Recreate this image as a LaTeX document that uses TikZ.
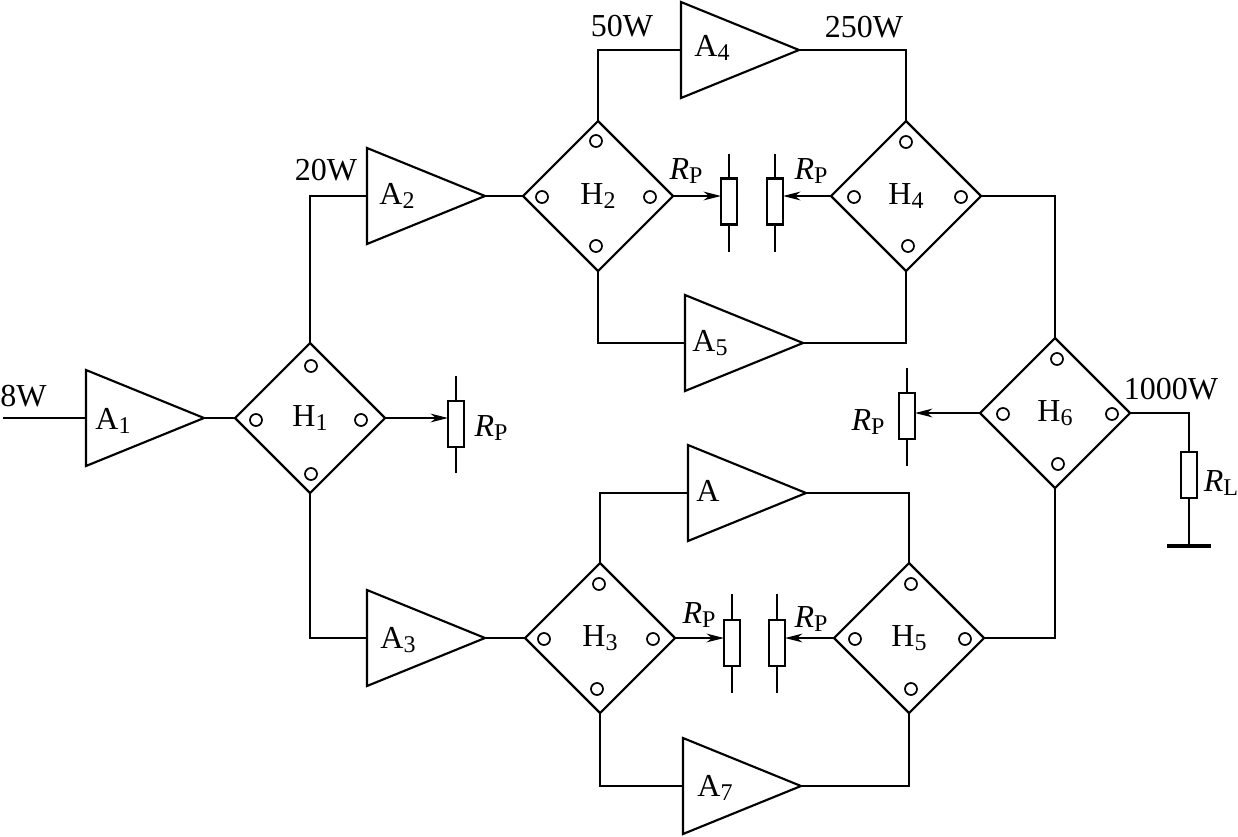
\documentclass[tikz,border=0pt]{standalone}
\usepackage{fontspec}
\setmainfont{Liberation Serif}
\usetikzlibrary{shapes.geometric,arrows.meta}
% Subscript set lower and smaller than the base text
\newcommand{\lowsub}[1]{\raisebox{-0.14em}{\fontsize{18}{20}\selectfont #1}}
\newcommand{\rpname}{\textit{R}\lowsub{P}}
\tikzset{
  wire/.style={line width=1.6pt,line join=miter},
  amp/.style={draw,line width=1.6pt,isosceles triangle,isosceles triangle stretches,
    minimum width=72pt,minimum height=88.5pt,inner sep=0pt,outer sep=0pt,anchor=lower side},
  hybrid/.style={draw,line width=1.6pt,diamond,aspect=1,minimum width=112.5pt,minimum height=112.5pt,
    inner sep=0pt,outer sep=0pt,font=\fontsize{24}{28}\selectfont},
  port/.style={draw,line width=1.3pt,circle,minimum size=9pt,inner sep=0pt,outer sep=0pt},
  resistor/.style={draw,line width=1.6pt,rectangle,minimum width=12pt,minimum height=34.5pt,
    inner sep=0pt,outer sep=0pt},
  tag/.style={inner sep=0pt,outer sep=0pt,font=\fontsize{24}{28}\selectfont},
  feed/.style={wire,-{Stealth[length=13pt,width=6.5pt,inset=4pt]}}
}
\begin{document}
\begin{tikzpicture}[x=0.75pt,y=-0.75pt]
\useasboundingbox (0,0) rectangle (1238,836);

% Amplifier stages
\node[amp] (a1) at (86,418) {};
\node[amp] (a2) at (367,196) {};
\node[amp] (a3) at (367,638) {};
\node[amp] (a4) at (681,50) {};
\node[amp] (a5) at (685,343) {};
\node[amp] (a6) at (688,493) {};
\node[amp] (a7) at (683,786) {};
\node[tag] (la1) at (113,421) {A\lowsub{1}};
\node[tag] (la2) at (397,196) {A\lowsub{2}};
\node[tag] (la3) at (398,640) {A\lowsub{3}};
\node[tag] (la4) at (712,48) {A\lowsub{4}};
\node[tag] (la5) at (710,343) {A\lowsub{5}};
\node[tag] (la6) at (708,491) {A};
\node[tag] (la7) at (715,788) {A\lowsub{7}};

% Hybrid couplers
\node[hybrid] (h1) at (310,418) {H\lowsub{1}};
\node[hybrid] (h2) at (598,196) {H\lowsub{2}};
\node[hybrid] (h3) at (600,638) {H\lowsub{3}};
\node[hybrid] (h4) at (906,196) {H\lowsub{4}};
\node[hybrid] (h5) at (909,638) {H\lowsub{5}};
\node[hybrid] (h6) at (1055,413) {H\lowsub{6}};

% Coupler ports
\foreach \cname/\px/\py in {
  p1l/256/420,p1r/361/420,p1t/311/366,p1b/311/474,
  p2l/542/197,p2r/650/197,p2t/596/141,p2b/596/246,
  p3l/544/639,p3r/653/639,p3t/599/584,p3b/597/689,
  p4l/854/197,p4r/961/197,p4t/906/142,p4b/908/246,
  p5l/855/639,p5r/965/639,p5t/911/584,p5b/911/689,
  p6l/1003/414,p6r/1112/414,p6t/1057/359,p6b/1058/464}{
  \node[port] (\cname) at (\px,\py) {};
}

% Balance and load resistors
\node[resistor] (r1) at (456,424) {};
\node[resistor] (r2) at (729,201.5) {};
\node[resistor] (r4) at (775,201.5) {};
\node[resistor] (r3) at (732,643) {};
\node[resistor] (r5) at (777,643) {};
\node[resistor] (r6) at (907,416) {};
\node[resistor] (rl) at (1189,475) {};

\foreach \rname/\xt/\yt/\yb in {r1/456/376/473,r2/729/154/252,r4/775/154/252,
    r3/732/594/693,r5/777/594/693,r6/907/368/466}{
  \coordinate (\rname top) at (\xt,\yt);
  \coordinate (\rname bot) at (\xt,\yb);
  \draw[wire] (\rname top) -- (\rname.north);
  \draw[wire] (\rname.south) -- (\rname bot);
}

% Signal path
\coordinate (in) at (3,418);
\coordinate (gnd) at (1189,546);
\coordinate (gndl) at (1167,546);
\coordinate (gndr) at (1211,546);
\draw[wire] (in) -- (a1.lower side);
\draw[wire] (a1.apex) -- (h1.west);
\draw[wire] (h1.north) |- (a2.lower side);
\draw[wire] (h1.south) |- (a3.lower side);
\draw[wire] (a2.apex) -- (h2.west);
\draw[wire] (a3.apex) -- (h3.west);
\draw[wire] (h2.north) |- (a4.lower side);
\draw[wire] (a4.apex) -| (h4.north);
\draw[wire] (h2.south) |- (a5.lower side);
\draw[wire] (a5.apex) -| (h4.south);
\draw[wire] (h3.north) |- (a6.lower side);
\draw[wire] (a6.apex) -| (h5.north);
\draw[wire] (h3.south) |- (a7.lower side);
\draw[wire] (a7.apex) -| (h5.south);
\draw[wire] (h4.east) -| (h6.north);
\draw[wire] (h5.east) -| (h6.south);
\draw[wire] (h6.east) -| (rl.north);
\draw[wire] (rl.south) -- (gnd);
\draw[line width=2.4pt] (gndl) -- (gndr);

% Sampling taps into the balance resistors
\draw[feed] (h1.east) -- (r1.west |- h1.east);
\draw[feed] (h2.east) -- (r2.west |- h2.east);
\draw[feed] (h4.west) -- (r4.east |- h4.west);
\draw[feed] (h3.east) -- (r3.west |- h3.east);
\draw[feed] (h5.west) -- (r5.east |- h5.west);
\draw[feed] (h6.west) -- (r6.east |- h6.west);

% Power levels and resistor names
\node[tag] (w8) at (23.5,396) {8W};
\node[tag] (w20) at (326,170) {20W};
\node[tag] (w50) at (622,26) {50W};
\node[tag] (w250) at (864,27) {250W};
\node[tag] (w1000) at (1171,389) {1000W};
\node[tag] (n1) at (491,428) {\rpname};
\node[tag] (n2) at (686,171) {\rpname};
\node[tag] (n4) at (811,171) {\rpname};
\node[tag] (n3) at (699,615) {\rpname};
\node[tag] (n5) at (811,619) {\rpname};
\node[tag] (n6) at (868,422) {\rpname};
\node[tag] (nl) at (1221,483) {\textit{R}\lowsub{L}};
\end{tikzpicture}
\end{document}
